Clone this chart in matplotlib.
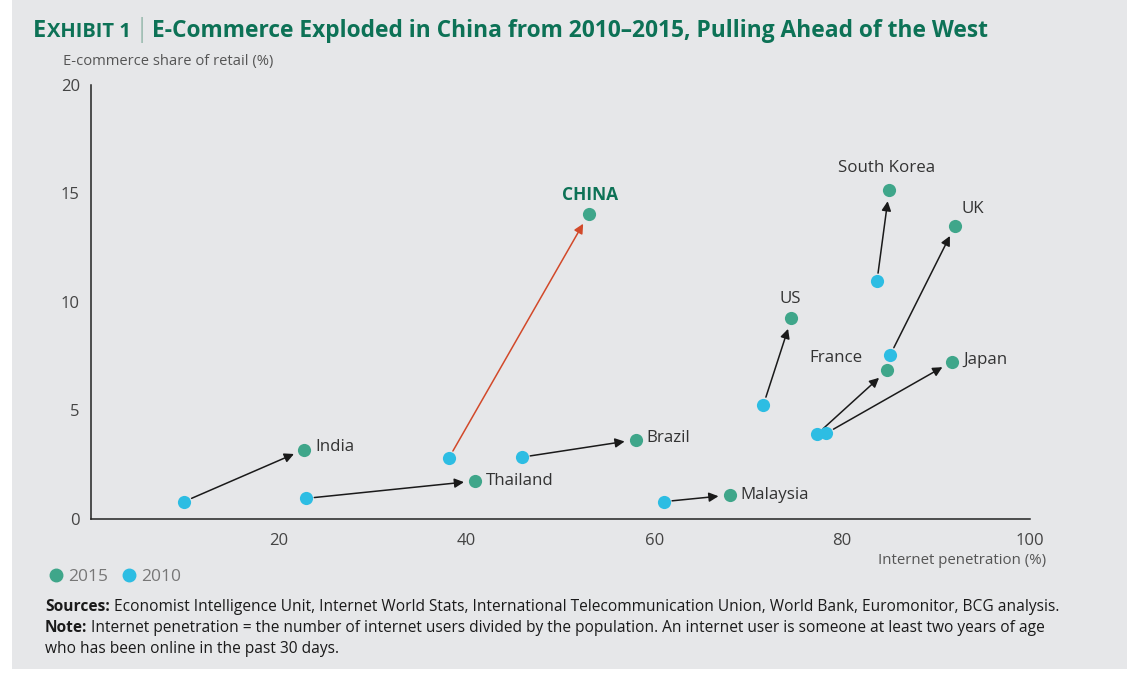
import matplotlib.pyplot as plt
from matplotlib.lines import Line2D
from matplotlib.patches import Rectangle

countries = ["India", "Thailand", "China", "Brazil", "Malaysia",
             "US", "South Korea", "UK", "France", "Japan"]
pen_2010 = [9.9, 22.9, 38.1, 45.9, 61.0, 71.6, 83.7, 85.1, 77.3, 78.3]
share_2010 = [0.8, 0.95, 2.8, 2.85, 0.8, 5.25, 10.95, 7.55, 3.9, 3.95]
pen_2015 = [22.7, 40.9, 53.0, 58.0, 68.0, 74.6, 85.0, 92.0, 84.8, 91.7]
share_2015 = [3.2, 1.75, 14.05, 3.65, 1.1, 9.25, 15.15, 13.5, 6.85, 7.25]
xticks = [20, 40, 60, 80, 100]
yticks = [0, 5, 10, 15, 20]

GREEN = "#3fa68a"
CYAN = "#2dbde3"
RED = "#d2492a"
TITLE_GREEN = "#0d7256"
BG = "#e6e7e9"
TXT = "#333333"

# label offsets in points (dx, dy, ha)
label_pos = {
    "India": (8, 2, "left"), "Thailand": (8, 0, "left"),
    "China": (1, 14, "center"), "Brazil": (8, 1, "left"),
    "Malaysia": (8, 0, "left"), "US": (-1, 14, "center"),
    "South Korea": (-2, 16, "center"), "UK": (13, 12, "center"),
    "France": (-18, 9, "right"), "Japan": (8, 1, "left"),
}

plt.rcParams['font.family'] = ['Open Sans', 'DejaVu Sans']

fig = plt.figure(figsize=(11.27, 6.76), dpi=100, facecolor="white")
fig.patches.append(Rectangle((12 / 1127, 7 / 676), 1, 1, transform=fig.transFigure,
                             facecolor=BG, edgecolor="none", zorder=-10))

ax = fig.add_axes([91 / 1127, 157 / 676, 939 / 1127, 434 / 676])
ax.set_facecolor("none")
ax.set_xlim(0, 100)
ax.set_ylim(0, 20)
ax.spines[["top", "right"]].set_visible(False)
for s in ("left", "bottom"):
    ax.spines[s].set_color("#222222")
    ax.spines[s].set_linewidth(1.1)
ax.set_xticks(xticks)
ax.set_yticks(yticks)
ax.tick_params(length=0, labelsize=12, labelcolor="#444444", pad=8)
ax.tick_params(axis="x", pad=10)

for i, c in enumerate(countries):
    col = RED if c == "China" else "#1a1a1a"
    ax.annotate("", xy=(pen_2015[i], share_2015[i]), xytext=(pen_2010[i], share_2010[i]),
                arrowprops=dict(arrowstyle="-|>", color=col, lw=1.1,
                                shrinkA=6, shrinkB=8, mutation_scale=14))

ax.scatter(pen_2010, share_2010, s=90, color=CYAN, zorder=3, linewidths=0, clip_on=False)
ax.scatter(pen_2015, share_2015, s=90, color=GREEN, zorder=3, linewidths=0, clip_on=False)

for i, c in enumerate(countries):
    dx, dy, ha = label_pos[c]
    if c == "China":
        ax.annotate("CHINA", (pen_2015[i], share_2015[i]), xytext=(dx, dy),
                    textcoords="offset points", ha=ha, va="center",
                    fontsize=12.5, fontweight="bold", color=TITLE_GREEN)
    else:
        ax.annotate(c, (pen_2015[i], share_2015[i]), xytext=(dx, dy),
                    textcoords="offset points", ha=ha, va="center",
                    fontsize=12.2, color=TXT)

# axis titles
fig.text(63 / 1127, 1 - 61 / 676, "E-commerce share of retail (%)", fontsize=10.6,
         color="#555555", va="center", ha="left")
fig.text(1046 / 1127, 1 - 561 / 676, "Internet penetration (%)", fontsize=10.8,
         color="#555555", va="center", ha="right")

# title
ty = 1 - 37 / 676
t1 = fig.text(33 / 1127, ty, "E", fontsize=17, fontweight="bold",
              color=TITLE_GREEN, va="baseline")
fig.canvas.draw()
r = fig.canvas.get_renderer()
bb = t1.get_window_extent(r)
t2 = fig.text(bb.x1 / 1127 + 1 / 1127, ty, "XHIBIT 1", fontsize=14.5, fontweight="bold",
              color=TITLE_GREEN, va="baseline")
bb2 = t2.get_window_extent(r)
t3 = fig.text(bb2.x1 / 1127 + 3 / 1127, ty, "|", fontsize=19,
              fontweight="light", color="#7aa897", va="baseline")
bb3 = t3.get_window_extent(r)
fig.text(bb3.x1 / 1127 + 4 / 1127, ty,
         "E-Commerce Exploded in China from 2010\u20132015, Pulling Ahead of the West",
         fontsize=16.4, fontweight="bold", color=TITLE_GREEN, va="baseline")

# legend
handles = [Line2D([], [], marker="o", ls="", color=GREEN, markersize=9),
           Line2D([], [], marker="o", ls="", color=CYAN, markersize=9)]
fig.legend(handles, ["2015", "2010"], loc="center left",
           bbox_to_anchor=(40 / 1127, 1 - 577 / 676), ncol=2, frameon=False,
           handletextpad=0.2, columnspacing=0.7, handlelength=1.0,
           prop=dict(size=12.5), labelcolor="#777777", borderaxespad=0)

# footnotes
notes = [("Sources:", " Economist Intelligence Unit, Internet World Stats, International Telecommunication Union, World Bank, Euromonitor, BCG analysis.", 607),
         ("Note:", " Internet penetration = the number of internet users divided by the population. An internet user is someone at least two years of age", 628),
         ("", "who has been online in the past 30 days.", 649)]
for head, rest, ypx in notes:
    if head:
        h = fig.text(45 / 1127, 1 - ypx / 676, head, fontsize=11.2,
                     fontweight="bold", color="#1a1a1a", va="center")
        ax.annotate(rest, xy=(1, 0), xycoords=h, va="bottom", ha="left",
                    fontsize=11.2, color="#1a1a1a", annotation_clip=False)
    else:
        fig.text(45 / 1127, 1 - ypx / 676, rest, fontsize=11.2, color="#1a1a1a", va="center")

fig.savefig("out.png", dpi=100, facecolor=fig.get_facecolor())
